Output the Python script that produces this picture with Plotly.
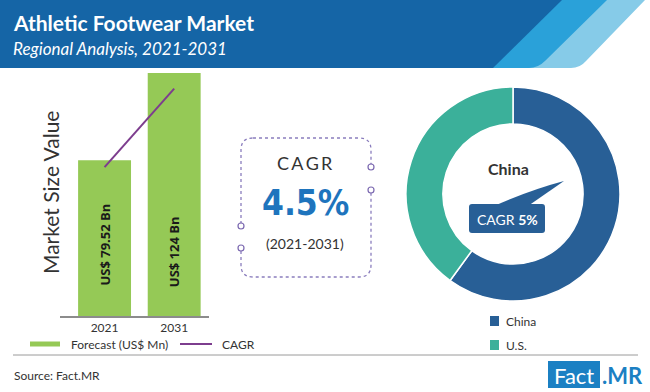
import plotly.graph_objects as go

# ---------------- data ----------------
years = ["2021", "2031"]
market_values = [79.52, 124.0]          # US$ Bn
bar_labels = ["US$ 79.52 Bn", "US$ 124 Bn"]
cagr_line = [76.0, 116.0]               # decorative CAGR trend line level
cagr_overall = "4.5%"
cagr_period = "(2021-2031)"
regions = ["China", "U.S."]
region_share = [60, 40]
region_colors = ["#285f96", "#3bb09a"]
china_cagr = "5%"

W, H = 650, 392
def px(x): return x / W
def py(y): return 1 - y / H

def path(cmds):
    out = []
    for c in cmds:
        if c[0] == "Z":
            out.append("Z")
        else:
            vals = c[1:]
            pts = []
            for i in range(0, len(vals), 2):
                pts.append(f"{px(vals[i]):.5f},{py(vals[i+1]):.5f}")
            out.append(c[0] + " " + " ".join(pts))
    return " ".join(out)

GREEN = "#95c956"
PURPLE = "#7d3d8e"
DARK = "#333333"
FONT = "Lato, Noto Sans, sans-serif"

fig = go.Figure()

fig.add_trace(go.Bar(
    x=[0, 1], y=market_values, width=0.76, marker_color=GREEN,
    marker_line_width=0, hoverinfo="skip", showlegend=False,
    xaxis="x", yaxis="y"))
fig.add_trace(go.Scatter(
    x=[0, 1], y=cagr_line, mode="lines", line=dict(color=PURPLE, width=2),
    hoverinfo="skip", showlegend=False, xaxis="x", yaxis="y"))

fig.add_trace(go.Pie(
    labels=regions, values=region_share, hole=0.655, sort=False,
    direction="clockwise", rotation=0,
    marker=dict(colors=region_colors, line=dict(color="white", width=1.5)),
    textinfo="none", hoverinfo="skip", showlegend=False,
    domain=dict(x=[px(406), px(620)], y=[py(301), py(87)])))

shapes = []
# header band with stripes
shapes.append(dict(type="path", xref="paper", yref="paper", line_width=0,
                   fillcolor="#86cbe8",
                   path=path([("M", 0, 0), ("L", 645, 0), ("L", 586, 61),
                              ("Q", 580, 68, 571, 68), ("L", 0, 68), ("Z",)])))
shapes.append(dict(type="path", xref="paper", yref="paper", line_width=0,
                   fillcolor="#2aa1d9",
                   path=path([("M", 0, 0), ("L", 607, 0), ("L", 545, 61),
                              ("Q", 538, 68, 529, 68), ("L", 0, 68), ("Z",)])))
shapes.append(dict(type="path", xref="paper", yref="paper", line_width=0,
                   fillcolor="#1565a6",
                   path=path([("M", 0, 0), ("L", 562, 0), ("L", 493, 68),
                              ("L", 0, 68), ("Z",)])))

# CAGR dotted box
bx0, by0, bx1, by1, r = 241, 138, 371, 277, 12
shapes.append(dict(type="path", xref="paper", yref="paper",
                   line=dict(color="#8a7dbd", width=1.3, dash="dot"),
                   path=path([("M", bx0 + r, by0), ("L", bx1 - r, by0),
                              ("Q", bx1, by0, bx1, by0 + r), ("L", bx1, by1 - r),
                              ("Q", bx1, by1, bx1 - r, by1), ("L", bx0 + r, by1),
                              ("Q", bx0, by1, bx0, by1 - r), ("L", bx0, by0 + r),
                              ("Q", bx0, by0, bx0 + r, by0)])))
for (gx, gy0, gy1) in [(bx1, 167, 190), (bx0, 226, 248)]:
    shapes.append(dict(type="line", xref="paper", yref="paper",
                       x0=px(gx), x1=px(gx), y0=py(gy0), y1=py(gy1),
                       line=dict(color="white", width=4)))
    for gy in (gy0, gy1):
        shapes.append(dict(type="circle", xref="paper", yref="paper",
                           x0=px(gx - 3), x1=px(gx + 3), y0=py(gy + 3), y1=py(gy - 3),
                           fillcolor="white", line=dict(color="#7b68b0", width=1.2)))

# callout in donut
shapes.append(dict(type="path", xref="paper", yref="paper", line_width=0,
                   fillcolor="#285f96",
                   path=path([("M", 494, 206), ("Q", 530, 190, 564, 181),
                              ("L", 528, 206), ("Z",)])))
shapes.append(dict(type="path", xref="paper", yref="paper", line_width=0,
                   fillcolor="#285f96",
                   path=path([("M", 472, 204), ("L", 542, 204), ("Q", 545, 204, 545, 207),
                              ("L", 545, 230), ("Q", 545, 233, 542, 233),
                              ("L", 472, 233), ("Q", 469, 233, 469, 230),
                              ("L", 469, 207), ("Q", 469, 204, 472, 204), ("Z",)])))

# legends
shapes.append(dict(type="line", xref="paper", yref="paper",
                   x0=px(30), x1=px(60), y0=py(344), y1=py(344),
                   line=dict(color=GREEN, width=5)))
shapes.append(dict(type="line", xref="paper", yref="paper",
                   x0=px(180), x1=px(212), y0=py(344), y1=py(344),
                   line=dict(color=PURPLE, width=2)))
for i, yy in enumerate([321, 345]):
    shapes.append(dict(type="rect", xref="paper", yref="paper",
                       x0=px(490), x1=px(499), y0=py(yy + 5), y1=py(yy - 5),
                       fillcolor=region_colors[i], line_width=0))

# separator
shapes.append(dict(type="line", xref="paper", yref="paper",
                   x0=px(13), x1=px(638), y0=py(355), y1=py(355),
                   line=dict(color="#9a9a9a", width=1)))
# logo box
shapes.append(dict(type="rect", xref="paper", yref="paper",
                   x0=px(548), x1=px(600), y0=py(388), y1=py(361),
                   fillcolor="#1b80c3", line_width=0))

ann = []
def text(x, y, s, size, color=DARK, family=FONT, xanchor="left", yanchor="middle",
         angle=0, xref="paper", yref="paper"):
    ann.append(dict(x=x if xref != "paper" else px(x), y=py(y) if yref == "paper" else y,
                    xref=xref, yref=yref, text=s, showarrow=False,
                    xanchor=xanchor, yanchor=yanchor, textangle=angle,
                    font=dict(size=size, color=color, family=family)))

text(11, 22, "<b>Athletic Footwear Market</b>", 21, "white")
text(11, 48, "<i>Regional Analysis, 2021-2031</i>", 17, "white")
text(50, 193, "Market Size Value", 21, DARK, xanchor="center", angle=-90)
for i, lab in enumerate(bar_labels):
    ann.append(dict(x=i, xref="x", y=py(252 if i else 245), yref="paper",
                    text=f"<b>{lab}</b>", showarrow=False, textangle=-90,
                    xanchor="center", yanchor="middle",
                    font=dict(size=13, color="#1a1a1a", family="Open Sans, sans-serif")))
text(305, 163, "C\u2009A\u2009G\u2009R", 18, DARK, xanchor="center")
text(305, 203, f"<b>{cagr_overall}</b>", 35, "#1e74bd",
     family="Liberation Sans Narrow, DejaVu Sans Condensed, Roboto, sans-serif",
     xanchor="center")
text(305, 243, cagr_period, 14, DARK, xanchor="center")
text(508, 168, f"<b>{regions[0]}</b>", 16, DARK, xanchor="center")
text(507, 219, f"CAGR <b>{china_cagr}</b>", 14, "white", xanchor="center")
text(69, 344, "Forecast (US$ Mn)", 12, DARK)
text(220, 344, "CAGR", 12, DARK)
for i, yy in enumerate([321, 345]):
    text(504, yy, regions[i], 12, DARK)
text(12, 375, "Source: Fact.MR", 12, DARK)
text(574, 375, "Fact", 22, "white", xanchor="center")
text(600, 375, "<b>.MR</b>", 22, "#1b80c3")

fig.update_layout(
    width=W, height=H, margin=dict(l=0, r=0, t=0, b=0),
    paper_bgcolor="white", plot_bgcolor="white",
    shapes=shapes, annotations=ann,
    xaxis=dict(domain=[px(60), px(209)], range=[-0.64, 1.5],
               tickvals=[0, 1], ticktext=years, showline=True,
               linecolor="#8c8c8c", linewidth=2, showgrid=False, zeroline=False,
               tickfont=dict(size=12, color=DARK, family=FONT), ticks="",
               fixedrange=True),
    yaxis=dict(domain=[py(316), py(73)], range=[0, 124], showticklabels=False,
               showgrid=False, zeroline=False, showline=False, fixedrange=True),
)

fig.write_html("out.html", config={"displayModeBar": False, "staticPlot": True},
               post_script="document.body.style.margin='0';document.body.style.overflow='hidden';")
